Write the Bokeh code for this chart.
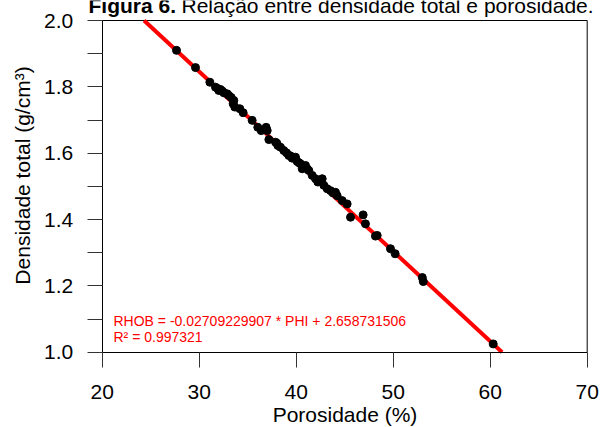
import math
from bokeh.plotting import figure
from bokeh.models import FixedTicker, Range1d, Label
from bokeh.embed import file_html
from bokeh.resources import INLINE

# ---- data ----
porosidade = [27.66, 29.62, 31.10, 31.68, 31.90, 32.02, 32.20, 32.40, 32.54, 32.88,
              33.05, 33.30, 33.57, 33.50, 33.67, 34.19, 34.53, 35.46, 36.04, 36.39,
              36.90, 37.01, 37.18, 37.87, 38.00, 38.11, 38.38, 38.72, 39.00, 39.24,
              39.40, 39.58, 39.93, 40.10, 40.30, 40.44, 40.62, 40.80, 40.96, 41.13,
              41.30, 41.65, 41.99, 42.23, 42.68, 42.85, 43.19, 43.54, 43.80, 44.05,
              44.22, 44.74, 45.25, 45.60, 46.90, 47.14, 48.17, 48.35, 49.72, 50.20,
              53.00, 53.10, 60.31]
densidade = [1.910, 1.858, 1.814, 1.799, 1.795, 1.789, 1.792, 1.787, 1.782, 1.779,
             1.774, 1.768, 1.759, 1.749, 1.739, 1.734, 1.722, 1.699, 1.678, 1.668,
             1.678, 1.668, 1.641, 1.633, 1.630, 1.623, 1.618, 1.608, 1.601, 1.593,
             1.592, 1.585, 1.588, 1.575, 1.571, 1.568, 1.553, 1.560, 1.563, 1.553,
             1.548, 1.533, 1.523, 1.513, 1.523, 1.503, 1.493, 1.487, 1.480, 1.482,
             1.472, 1.457, 1.447, 1.407, 1.414, 1.387, 1.350, 1.352, 1.312, 1.297,
             1.225, 1.213, 1.025]
slope = -0.02709229907
intercept = 2.658731506
r2 = 0.997321
x_ticks = [20, 30, 40, 50, 60, 70]
y_ticks = [1.0, 1.2, 1.4, 1.6, 1.8, 2.0]
y_minor = [1.1, 1.3, 1.5, 1.7, 1.9]
y_tick_labels = ["1.0", "1.2", "1.4", "1.6", "1.8", "2.0"]
x_bounds = (20, 70)
y_bounds = (1.0, 2.0)
x_label = "Porosidade (%)"
y_label = "Densidade total (g/cm³)"
title_bold = "Figura 6."
title_rest = "Relação entre densidade total e porosidade."

FONT = "Liberation Sans"

# ---- layout geometry (pixels) ----
W, H = 601, 427
PX_L, PX_R = 101.7, 586.7     # x = 20 and x = 70
PY_T, PY_B = 20.0, 351.7      # y = 2.0 and y = 1.0
xs = (x_bounds[1] - x_bounds[0]) / (PX_R - PX_L)
ys = (y_bounds[1] - y_bounds[0]) / (PY_B - PY_T)
x_range = Range1d(x_bounds[0] - PX_L * xs, x_bounds[0] + (W - PX_L) * xs)
y_range = Range1d(y_bounds[0] - (H - PY_B) * ys, y_bounds[1] + PY_T * ys)

p = figure(width=W, height=H, output_backend="svg", toolbar_location=None,
           x_range=x_range, y_range=y_range,
           min_border_left=0, min_border_right=0, min_border_top=0,
           min_border_bottom=0)
p.background_fill_color = "white"
p.border_fill_color = "white"
p.outline_line_color = None
p.xgrid.visible = False
p.ygrid.visible = False

# top and right frame lines
p.segment(x0=[x_bounds[0], x_bounds[1]], y0=[y_bounds[1], y_bounds[0]],
          x1=[x_bounds[1], x_bounds[1]], y1=[y_bounds[1], y_bounds[1]],
          line_color="black", line_width=1)

# regression line
fit_rhob_ends = [y_bounds[1], y_bounds[0]]
fit_x = [(r - intercept) / slope for r in fit_rhob_ends]
fit_y = [slope * x + intercept for x in fit_x]
p.line(fit_x, fit_y, line_color="#ff0000", line_width=4)

# data points
p.scatter(porosidade, densidade, size=8, fill_color="black", line_color="black")

# axes
p.xaxis.fixed_location = y_bounds[0]
p.yaxis.fixed_location = x_bounds[0]
p.xaxis.bounds = x_bounds
p.yaxis.bounds = y_bounds
p.xaxis.ticker = FixedTicker(ticks=x_ticks)
p.yaxis.ticker = FixedTicker(ticks=y_ticks, minor_ticks=y_minor)
for ax in (p.xaxis[0], p.yaxis[0]):
    ax.axis_line_color = "black"
    ax.major_tick_line_color = "#333333"
    ax.minor_tick_line_color = "#333333"
    ax.major_tick_out = 15
    ax.major_tick_in = 0
    ax.minor_tick_out = 15
    ax.minor_tick_in = 0
    ax.major_label_text_font = FONT
    ax.major_label_text_font_size = "21px"
    ax.major_label_text_color = "black"
    ax.axis_label_text_font = FONT
    ax.axis_label_text_font_size = "21px"
    ax.axis_label_text_font_style = "normal"
    ax.axis_label_text_color = "black"

p.xaxis.minor_tick_line_color = None
p.xaxis.axis_label = x_label
p.xaxis.major_label_standoff = 18
p.xaxis.axis_label_standoff = 0
p.yaxis.major_label_standoff = 14
p.yaxis.major_label_overrides = dict(zip(y_ticks, y_tick_labels))

# y axis title placed as in the reference (slightly above the frame centre)
p.add_layout(Label(x=22, y=H - 175, x_units="screen", y_units="screen",
                   angle=math.pi / 2, text=y_label, text_font=FONT,
                   text_font_size="21px", text_color="black",
                   text_align="center", text_baseline="alphabetic"))

# equation annotation
p.add_layout(Label(x=113, y=H - 320.7, x_units="screen", y_units="screen",
                   text=f"RHOB = {slope} * PHI + {intercept}",
                   text_font=FONT, text_font_size="14px", text_color="#ff0000",
                   text_baseline="alphabetic"))
p.add_layout(Label(x=113, y=H - 336.7, x_units="screen", y_units="screen",
                   text=f"R² = {r2}",
                   text_font=FONT, text_font_size="14px", text_color="#ff0000",
                   text_baseline="alphabetic"))

# title (cut at the top edge as in the reference)
p.add_layout(Label(x=88, y=H - 5, x_units="screen", y_units="screen",
                   text=title_bold, text_font=FONT, text_font_size="21px",
                   text_font_style="bold", text_color="black",
                   text_baseline="alphabetic"))
p.add_layout(Label(x=181, y=H - 5, x_units="screen", y_units="screen",
                   text=title_rest, text_font=FONT, text_font_size="21px",
                   text_color="black", text_baseline="alphabetic"))

open("out.html", "w").write(file_html(p, INLINE))
